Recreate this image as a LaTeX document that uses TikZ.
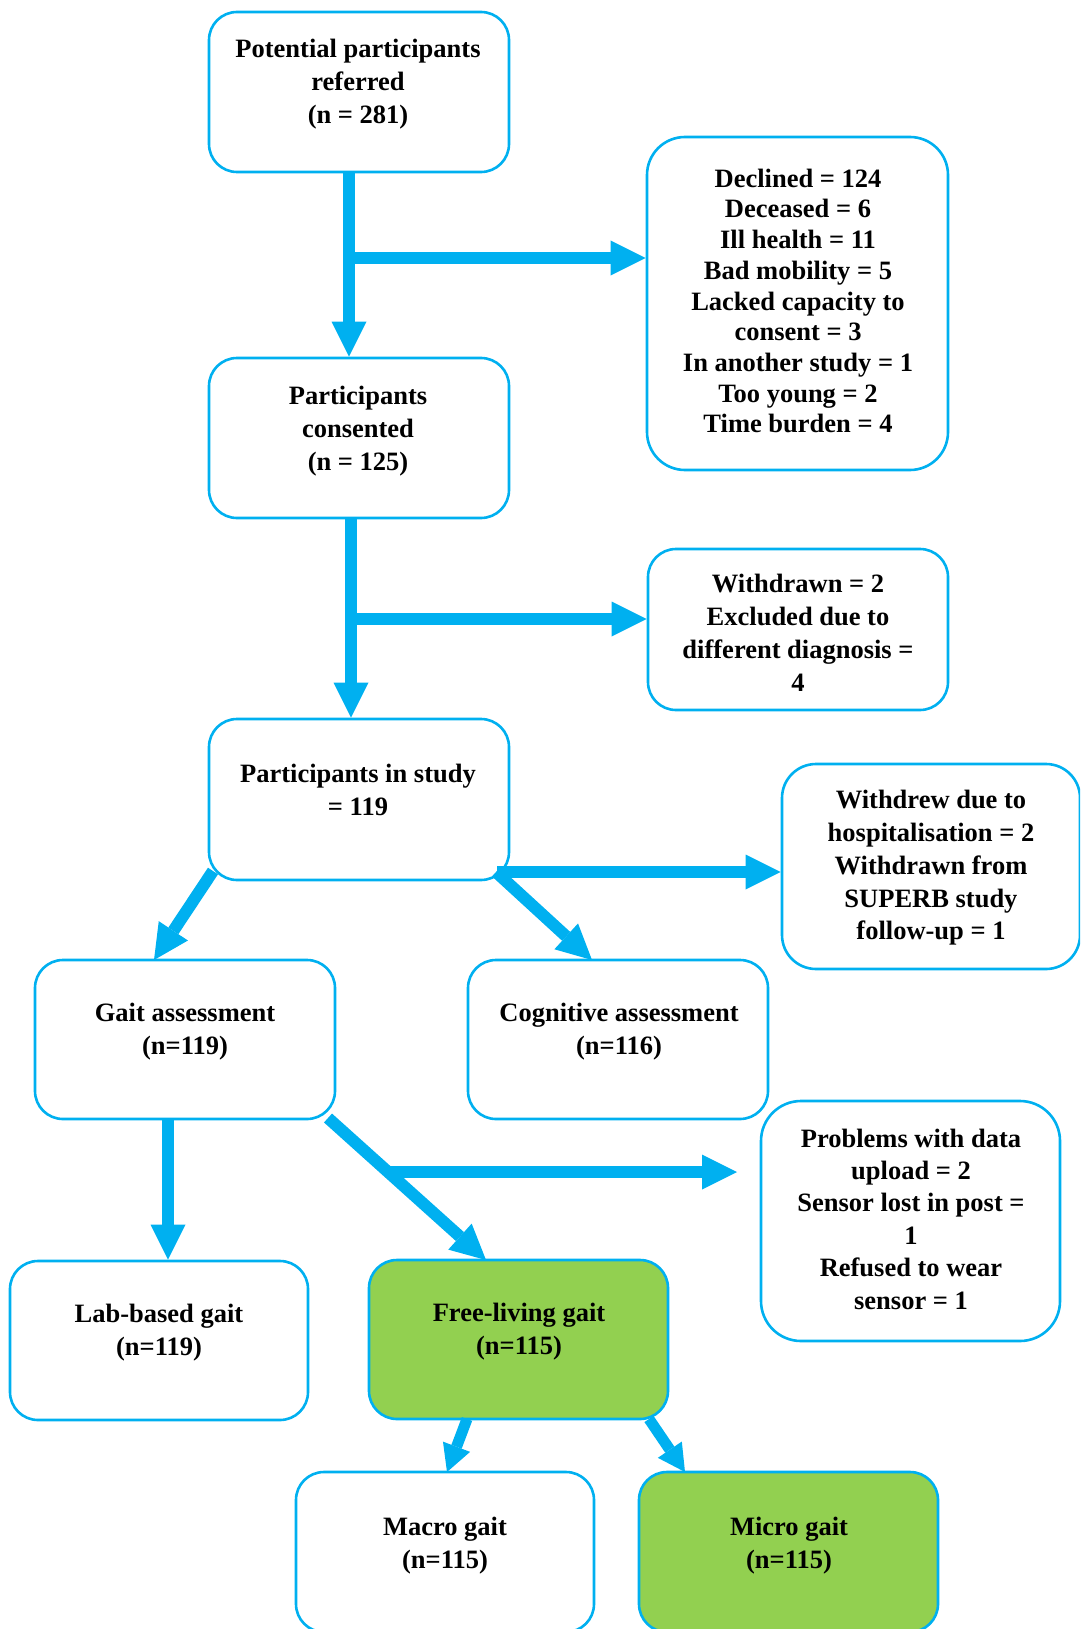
\documentclass[tikz,border=0pt]{standalone}
\usepackage{fontspec}
\setmainfont{Liberation Serif}
\usetikzlibrary{arrows.meta}
\definecolor{flowblue}{HTML}{00B0F0}
\definecolor{flowgreen}{HTML}{92D050}
\begin{document}
\begin{tikzpicture}[x=1pt,y=-1pt,
  box/.style={draw=flowblue, line width=2.6pt, fill=white, rectangle,
    rounded corners=#1, inner sep=0pt},
  box/.default=28pt,
  greenbox/.style={box, fill=flowgreen},
  txt/.style={align=center, inner sep=0pt,
    font=\bfseries\fontsize{26.5}{33}\selectfont},
  flow/.style={draw=flowblue, line width=12pt,
    -{Triangle[width=35pt,length=35pt,line width=0pt]}},
  smallflow/.style={draw=flowblue, line width=11pt,
    -{Triangle[width=29pt,length=27pt,line width=0pt]}}]
\useasboundingbox (0,0) rectangle (1080,1629);
\clip (0,0) rectangle (1080,1629);

% boxes
\node[box, minimum width=300pt, minimum height=160pt] (A) at (359,92) {};
\node[box=38pt, minimum width=301pt, minimum height=333pt] (B) at (797.5,303.5) {};
\node[box, minimum width=300pt, minimum height=160pt] (C) at (359,438) {};
\node[box, minimum width=300pt, minimum height=161pt] (D) at (798,629.5) {};
\node[box, minimum width=300pt, minimum height=161pt] (E) at (359,799.5) {};
\node[box=34pt, minimum width=298pt, minimum height=205pt] (F) at (931,866.5) {};
\node[box, minimum width=300pt, minimum height=159pt] (G) at (185,1039.5) {};
\node[box, minimum width=300pt, minimum height=159pt] (H) at (618,1039.5) {};
\node[box=40pt, minimum width=299pt, minimum height=240pt] (I) at (910.5,1221) {};
\node[box, minimum width=298pt, minimum height=159pt] (J) at (159,1340.5) {};
\node[greenbox, minimum width=299pt, minimum height=159pt] (K) at (518.5,1339.5) {};
\node[box, minimum width=298pt, minimum height=160pt] (L) at (445,1552) {};
\node[greenbox, minimum width=299pt, minimum height=160pt] (M) at (788.5,1552) {};

% box texts
\node[txt] (At) at (358,84) {Potential participants\\referred\\(n = 281)};
\node[txt, font=\bfseries\fontsize{26.5}{30.7}\selectfont] (Bt) at (798,301)
  {Declined = 124\\Deceased = 6\\Ill health = 11\\Bad mobility = 5\\Lacked capacity to\\consent = 3\\In another study = 1\\Too young = 2\\Time burden = 4};
\node[txt] (Ct) at (358,431) {Participants\\consented\\(n = 125)};
\node[txt] (Dt) at (798,633) {Withdrawn = 2\\Excluded due to\\different diagnosis =\\4};
\node[txt] (Et) at (358,790) {Participants in study\\= 119};
\node[txt, font=\bfseries\fontsize{26.5}{32.7}\selectfont] (Ft) at (931,868)
  {Withdrew due to\\hospitalisation = 2\\Withdrawn from\\SUPERB study\\follow-up = 1};
\node[txt] (Gt) at (185,1032) {Gait assessment\\(n=119)};
\node[txt] (Ht) at (619,1032) {Cognitive assessment\\(n=116)};
\node[txt, font=\bfseries\fontsize{26.5}{32.4}\selectfont] (It) at (911,1219)
  {Problems with data\\upload = 2\\Sensor lost in post =\\1\\Refused to wear\\sensor = 1};
\node[txt] (Jt) at (159,1333) {Lab-based gait\\(n=119)};
\node[txt] (Kt) at (519,1332) {Free-living gait\\(n=115)};
\node[txt] (Lt) at (445,1546) {Macro gait\\(n=115)};
\node[txt] (Mt) at (789,1546) {Micro gait\\(n=115)};

% connector end points
\coordinate (a1) at (349,172);
\coordinate (a2) at (349,258);
\coordinate (c1) at (351,518);
\coordinate (c2) at (351,619);
\coordinate (e1) at (497,872);
\coordinate (e2) at (213,871);
\coordinate (g0) at (154,960);
\coordinate (e3) at (496,872);
\coordinate (h0) at (592,960);
\coordinate (g2) at (168,1119);
\coordinate (g3) at (328,1118);
\coordinate (k0) at (486,1260);
\coordinate (g4) at (389,1172);
\coordinate (i0) at (737,1172);
\coordinate (k2) at (467,1419);
\coordinate (l0) at (447,1472);
\coordinate (k3) at (649,1419);
\coordinate (m0) at (685,1472);

% connectors
\draw[flow] (a1) -- (a1 |- C.north);
\draw[flow] (a2) -- (a2 -| B.west);
\draw[flow] (c1) -- (c1 |- E.north);
\draw[flow] (c2) -- (c2 -| D.west);
\draw[flow] (e1) -- (e1 -| F.west);
\draw[flow] (e2) -- (g0);
\draw[flow] (e3) -- (h0);
\draw[flow] (g2) -- (g2 |- J.north);
\draw[flow] (g3) -- (k0);
\draw[flow] (g4) -- (i0);
\draw[smallflow] (k2) -- (l0);
\draw[smallflow] (k3) -- (m0);
\end{tikzpicture}
\end{document}
